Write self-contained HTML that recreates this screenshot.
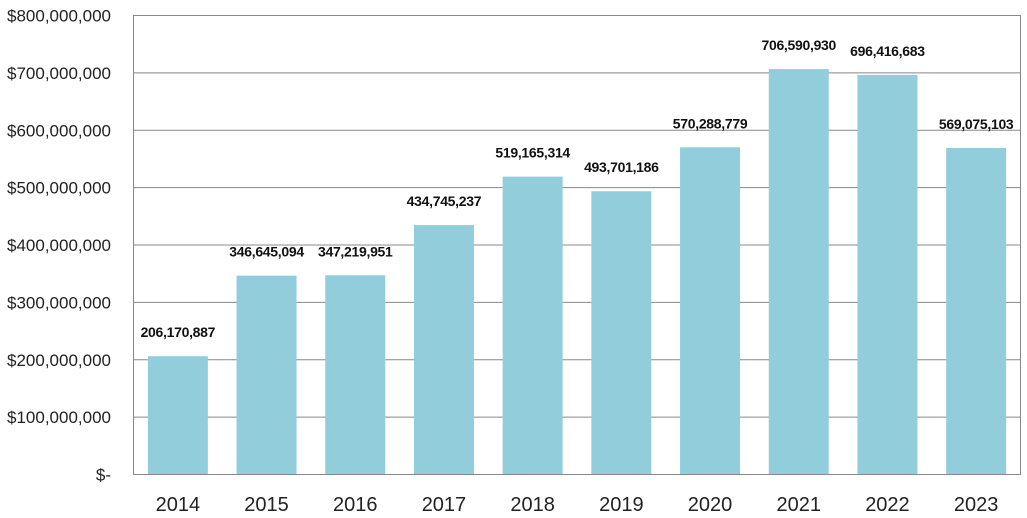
<!DOCTYPE html>
<html><head><meta charset="utf-8"><style>
body{margin:0;background:#fff;}
svg{display:block;font-family:"Liberation Sans",sans-serif;}
</style></head><body>
<svg id="chart" width="1027" height="518"></svg>
<script>
const categories=["2014","2015","2016","2017","2018","2019","2020","2021","2022","2023"];
const values=[206170887,346645094,347219951,434745237,519165314,493701186,570288779,706590930,696416683,569075103];
const tickValues=[0,100000000,200000000,300000000,400000000,500000000,600000000,700000000,800000000];
const tickLabels=["$-","$100,000,000","$200,000,000","$300,000,000","$400,000,000","$500,000,000","$600,000,000","$700,000,000","$800,000,000"];
const NS="http://www.w3.org/2000/svg";
const svg=document.getElementById('chart');
const L=133.5,R=1020.5,T=15.5,B=474.5,maxV=800000000;
const y=v=>B-(v/maxV)*(B-T);
const band=(R-L)/categories.length;
const x=i=>L+band*i;
const barW=60;
function mk(tag,attrs,parent){const e=document.createElementNS(NS,tag);for(const k in attrs)e.setAttribute(k,attrs[k]);(parent||svg).appendChild(e);return e;}
tickValues.forEach((v,i)=>{
  const g=mk('line',{x1:L,x2:R,y1:y(v),y2:y(v),stroke:'#888','stroke-width':1});
  
  
  const t=mk('text',{x:111,y:y(v)+6,'text-anchor':'end','font-size':17,fill:'#222'});
  t.textContent=tickLabels[i];
  
  
});
categories.forEach((c,i)=>{
  const bx=x(i)+(band-barW)/2;
  const r=mk('rect',{x:bx,y:y(values[i]),width:barW,height:B-y(values[i]),fill:'#92CDDC'});
  
  
  const lbl=mk('text',{x:bx+barW/2,y:y(values[i])-19,'text-anchor':'middle','font-size':14,fill:'#111','font-weight':'bold','letter-spacing':'-0.3'});
  lbl.textContent=values[i].toLocaleString('en-US');
  
  
  const xl=mk('text',{x:bx+barW/2,y:511,'text-anchor':'middle','font-size':20,fill:'#222'});
  xl.textContent=c;
  
  
});
const frame=mk('rect',{x:L,y:T,width:R-L,height:B-T,fill:'none',stroke:'#888','stroke-width':1});


</script>
</body></html>
